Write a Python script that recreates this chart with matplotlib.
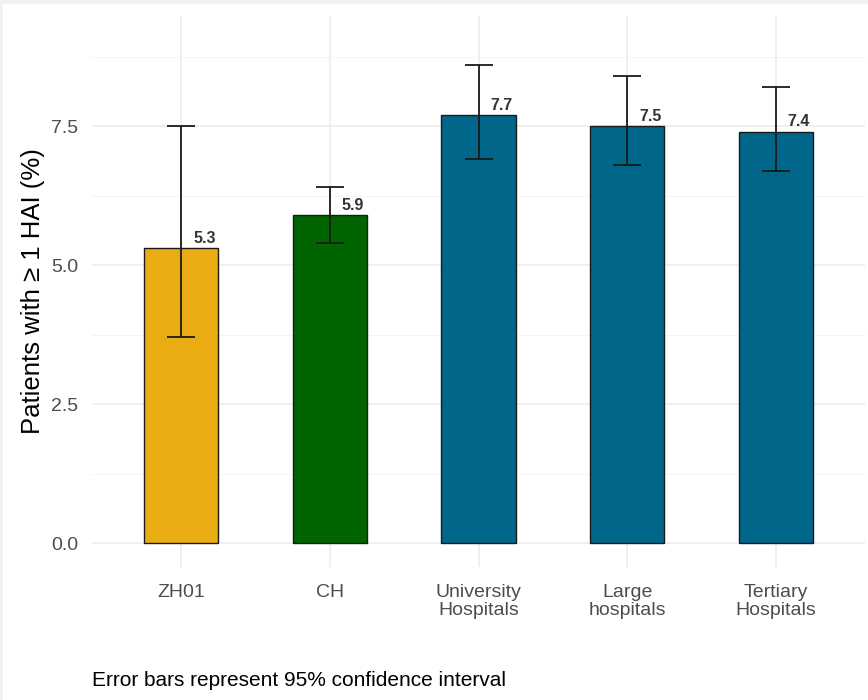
import numpy as np
import matplotlib.pyplot as plt
from matplotlib.patches import Rectangle

plt.rcParams['font.family'] = ['Liberation Sans', 'DejaVu Sans']

# datos
categories = ['ZH01', 'CH', 'University\nHospitals', 'Large\nhospitals', 'Tertiary\nHospitals']
values = [5.3, 5.9, 7.7, 7.5, 7.4]
ci_low = [3.7, 5.4, 6.9, 6.8, 6.7]
ci_high = [7.5, 6.4, 8.6, 8.4, 8.2]
colors = ['#E9AC12', '#006400', '#00668A', '#00668A', '#00668A']

fig = plt.figure(figsize=(8.68, 7.0), dpi=100)
fig.patch.set_facecolor('white')
# marco gris fino arriba y a la izquierda
fig.patches.append(Rectangle((0, 0), 3 / 868, 1, transform=fig.transFigure,
                             facecolor='#f1f1f1', edgecolor='none'))
fig.patches.append(Rectangle((0, 1 - 4 / 700), 1, 4 / 700, transform=fig.transFigure,
                             facecolor='#f1f1f1', edgecolor='none'))

ax = fig.add_axes([92 / 868, 133 / 700, 773 / 868, 551 / 700])
ax.set_facecolor('white')

x = np.arange(len(categories))
v = np.array(values)
err = [v - np.array(ci_low), np.array(ci_high) - v]

ax.bar(x, v, width=0.5, color=colors, edgecolor='#1a1a1a', linewidth=1.0, zorder=2)
ax.errorbar(x, v, yerr=err, fmt='none', ecolor='#1a1a1a', elinewidth=1.3,
            capsize=10, capthick=1.3, zorder=3)

for xi, vi in zip(x, v):
    ax.text(xi + 0.08, vi + 0.04, f'{vi:.1f}', ha='left', va='bottom',
            fontsize=11.5, fontweight='bold', color='#333333', zorder=4)

ax.set_xlim(-0.6, len(categories) - 0.4)
ax.set_ylim(-0.43, 9.48)
ax.set_yticks([0, 2.5, 5.0, 7.5])
ax.set_yticklabels(['0.0', '2.5', '5.0', '7.5'])
ax.set_yticks([1.25, 3.75, 6.25, 8.75], minor=True)
ax.set_xticks(x)
ax.set_xticklabels(categories, linespacing=1.12)

ax.grid(True, which='major', color='#ebebeb', linewidth=1.1, zorder=0)
ax.grid(True, which='minor', axis='y', color='#f3f3f3', linewidth=0.6, zorder=0)
ax.set_axisbelow(True)
for s in ax.spines.values():
    s.set_visible(False)
ax.tick_params(which='both', length=0, labelsize=14, labelcolor='#4d4d4d')
ax.tick_params(axis='y', pad=10)
ax.tick_params(axis='x', pad=12)

ax.set_ylabel('Patients with \u2265 1 HAI (%)', fontsize=18.5, color='black', labelpad=4)

fig.text(92 / 868, 1 - 681 / 700, 'Error bars represent 95% confidence interval',
         fontsize=15, va='center', ha='left', color='black')

fig.savefig('out.png', dpi=100)
